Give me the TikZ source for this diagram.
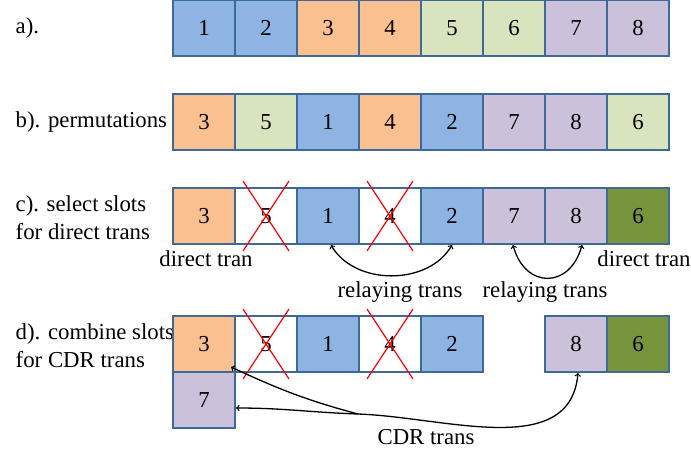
\documentclass[tikz,border=0pt]{standalone}
\usepackage{fontspec}
\setmainfont{Liberation Serif}

\definecolor{slotline}{HTML}{3E6A9A}
\definecolor{slotblue}{HTML}{8DB4E2}
\definecolor{slotorange}{HTML}{FAC090}
\definecolor{slotlgreen}{HTML}{D7E4BD}
\definecolor{slotpurple}{HTML}{CCC1DA}
\definecolor{slotdgreen}{HTML}{77933C}

\begin{document}
\begin{tikzpicture}[thick,x=1pt,y=-1pt,
  every node/.style={font=\fontsize{22.8}{28}\selectfont},
  slot/.style={draw=slotline,line width=2pt,minimum width=62pt,minimum height=56pt,inner sep=0pt},
  blueslot/.style={slot,fill=slotblue},
  orangeslot/.style={slot,fill=slotorange},
  lgreenslot/.style={slot,fill=slotlgreen},
  purpleslot/.style={slot,fill=slotpurple},
  dgreenslot/.style={slot,fill=slotdgreen},
  emptyslot/.style={slot,fill=white},
  cross/.style={red,line width=1.2pt},
  link/.style={black,line width=1.3pt}]

\useasboundingbox (0,0) rectangle (691,453);

%row a
\node[anchor=west] at (12, 28) (la) {a).};
\node[blueslot] at (204, 28) (a1) {1};
\node[blueslot] at (266, 28) (a2) {2};
\node[orangeslot] at (328, 28) (a3) {3};
\node[orangeslot] at (390, 28) (a4) {4};
\node[lgreenslot] at (452, 28) (a5) {5};
\node[lgreenslot] at (514, 28) (a6) {6};
\node[purpleslot] at (576, 28) (a7) {7};
\node[purpleslot] at (638, 28) (a8) {8};

%row b
\node[anchor=west] at (12, 122) (lb) {b). permutations};
\node[orangeslot] at (204, 122) (b3) {3};
\node[lgreenslot] at (266, 122) (b5) {5};
\node[blueslot] at (328, 122) (b1) {1};
\node[orangeslot] at (390, 122) (b4) {4};
\node[blueslot] at (452, 122) (b2) {2};
\node[purpleslot] at (514, 122) (b7) {7};
\node[purpleslot] at (576, 122) (b8) {8};
\node[lgreenslot] at (638, 122) (b6) {6};

%row c
\node[anchor=west,align=left] at (12, 218) (lc) {c). select slots\\for direct trans};
\node[orangeslot] at (204, 216) (c3) {3};
\node[emptyslot] at (266, 216) (c5) {5};
\node[blueslot] at (328, 216) (c1) {1};
\node[emptyslot] at (390, 216) (c4) {4};
\node[blueslot] at (452, 216) (c2) {2};
\node[purpleslot] at (514, 216) (c7) {7};
\node[purpleslot] at (576, 216) (c8) {8};
\node[dgreenslot] at (638, 216) (c6) {6};

\draw[cross] ([xshift=-23pt,yshift=35pt]c5.center) -- ([xshift=23pt,yshift=-35pt]c5.center);
\draw[cross] ([xshift=23pt,yshift=35pt]c5.center) -- ([xshift=-23pt,yshift=-35pt]c5.center);
\draw[cross] ([xshift=-23pt,yshift=35pt]c4.center) -- ([xshift=23pt,yshift=-35pt]c4.center);
\draw[cross] ([xshift=23pt,yshift=35pt]c4.center) -- ([xshift=-23pt,yshift=-35pt]c4.center);

\node at (206, 259) (dt1) {direct tran};
\node at (644, 259) (dt2) {direct tran};
\node at (400, 292) (rt1) {relaying trans};
\node at (545, 292) (rt2) {relaying trans};

%relaying links
\draw[link,<->] ([xshift=3pt]c1.south) to[out=-60,in=-120] (c2.south);
\draw[link,<->] ([xshift=-1pt]c7.south) to[out=-75,in=-105,looseness=1.7] ([xshift=6pt]c8.south);

%row d
\node[anchor=west,align=left] at (12, 346) (ld) {d). combine slots\\for CDR trans};
\node[orangeslot] at (204, 344) (d3) {3};
\node[emptyslot] at (266, 344) (d5) {5};
\node[blueslot] at (328, 344) (d1) {1};
\node[emptyslot] at (390, 344) (d4) {4};
\node[blueslot] at (452, 344) (d2) {2};
\node[purpleslot] at (576, 344) (d8) {8};
\node[dgreenslot] at (638, 344) (d6) {6};
\node[purpleslot] at (204, 400) (d7) {7};

\draw[cross] ([xshift=-23pt,yshift=35pt]d5.center) -- ([xshift=23pt,yshift=-35pt]d5.center);
\draw[cross] ([xshift=23pt,yshift=35pt]d5.center) -- ([xshift=-23pt,yshift=-35pt]d5.center);
\draw[cross] ([xshift=-23pt,yshift=35pt]d4.center) -- ([xshift=23pt,yshift=-35pt]d4.center);
\draw[cross] ([xshift=23pt,yshift=35pt]d4.center) -- ([xshift=-23pt,yshift=-35pt]d4.center);

%CDR links
\coordinate (cdr) at (358, 414);
\draw[link,->] (cdr) to[out=165,in=-25] ([xshift=-5pt,yshift=6pt]d3.south east);
\draw[link,->] (cdr) to[out=178,in=0] ([yshift=-8pt]d7.east);
\draw[link,->] (cdr) to[out=-2,in=-95] ([xshift=2pt]d8.south);

\node at (426, 437) (cdrt) {CDR trans};

\end{tikzpicture}
\end{document}
